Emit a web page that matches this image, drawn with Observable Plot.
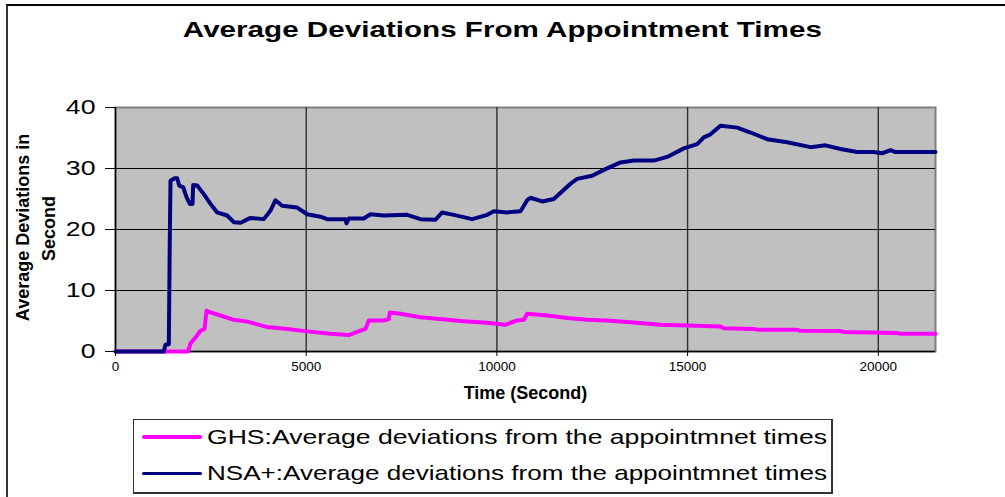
<!DOCTYPE html>
<html><head><meta charset="utf-8">
<script src="https://cdn.jsdelivr.net/npm/d3@7"></script>
<script src="https://cdn.jsdelivr.net/npm/@observablehq/plot@0.6"></script>
<style>
body{margin:0;background:#fff;}
#wrap{position:relative;width:1005px;height:497px;overflow:hidden;font-family:"Liberation Sans",Arial,sans-serif;color:#000;}
#frame{position:absolute;left:6px;top:4px;width:1100px;height:600px;border-left:2px solid #333;border-top:2px solid #000;}
#chart{position:absolute;left:0;top:0;}
#title{position:absolute;top:15px;left:0;width:1005px;text-align:center;font-weight:bold;font-size:22px;line-height:30px;white-space:nowrap;}
.stretch{display:inline-block;white-space:nowrap;}
#legend{position:absolute;left:133px;top:419px;width:697px;height:72px;border:1px solid #333;border-right-width:2px;border-bottom-width:2px;background:#fff;}
.row{position:absolute;left:0;width:697px;height:26px;}
.sw{position:absolute;left:8px;width:60px;border-radius:2px;}
.lt{position:absolute;left:73px;top:0;font-size:21px;line-height:26px;transform-origin:left center;}
</style></head>
<body>
<div id="wrap">
  <div id="frame"></div>
  <div id="chart"></div>
  <div id="title"><span class="stretch" id="titleText">Average Deviations From Appointment Times</span></div>
  <div id="legend"></div>
</div>
<script>
// ---- data ----
const xTicks = [0, 5000, 10000, 15000, 20000];
const yTicks = [0, 10, 20, 30, 40];
const seriesNames = [
  "GHS:Average deviations from the appointmnet times",
  "NSA+:Average deviations from the appointmnet times"
];
const seriesColors = ["#FF00FF", "#000080"];

const ghsTime = [0,1897,1966,2098,2229,2334,2386,2491,2753,3102,3452,3977,4502,5025,5637,6117,6336,6555,6642,7035,7166,7192,7472,7997,8434,9133,9745,10226,10532,10707,10794,11318,11843,12367,12892,13503,14290,14989,15862,15950,16736,16867,17873,17960,19009,19096,20494,20582,21500];
const ghsValue = [0,0,1.3,2.3,3.4,3.7,6.7,6.4,5.9,5.2,4.9,4.0,3.7,3.3,2.9,2.7,3.2,3.7,5.1,5.1,5.3,6.4,6.2,5.6,5.35,4.97,4.7,4.4,5.1,5.2,6.2,5.9,5.5,5.2,5.1,4.8,4.4,4.25,4.1,3.8,3.7,3.55,3.55,3.4,3.35,3.2,3.05,2.9,2.9];

const nsaTime = [0,1267,1311,1398,1424,1442,1547,1617,1670,1775,1862,1949,2019,2037,2142,2316,2491,2666,2928,3102,3277,3540,3889,4064,4195,4370,4763,5025,5375,5550,6030,6056,6117,6510,6686,7035,7648,7997,8390,8565,8870,9352,9745,9920,10270,10619,10794,10881,11187,11492,11930,12105,12498,12847,13241,13590,14114,14465,14901,15251,15425,15600,15862,16300,16649,17087,17611,18222,18615,19009,19446,19883,20101,20319,20451,21500];
const nsaValue = [0,0,1.1,1.2,18.7,28.0,28.4,28.4,27.2,26.9,25.3,24.2,24.2,27.3,27.2,25.8,24.2,22.8,22.3,21.2,21.1,21.9,21.7,23.1,24.8,23.9,23.6,22.5,22.1,21.7,21.7,21.0,21.8,21.8,22.5,22.3,22.4,21.7,21.6,22.8,22.4,21.7,22.4,23.0,22.8,23.0,24.8,25.2,24.6,25.0,27.5,28.3,28.8,29.9,31.0,31.3,31.3,31.9,33.3,34.0,35.1,35.6,37.0,36.7,35.9,34.8,34.3,33.5,33.8,33.2,32.7,32.7,32.5,33.0,32.7,32.7];

const ghs = ghsTime.map((t, i) => ({t, v: ghsValue[i]}));
const nsa = nsaTime.map((t, i) => ({t, v: nsaValue[i]}));

const plot = Plot.plot({
  width: 1005,
  height: 497,
  marginLeft: 115,
  marginRight: 70,
  marginTop: 107,
  marginBottom: 146,
  style: {background: "transparent", fontFamily: "'Liberation Sans', Arial, sans-serif", color: "#000", overflow: "visible"},
  x: {domain: [0, 21500], label: null},
  y: {domain: [0, 40], label: null},
  marks: [
    Plot.frame({fill: "#C0C0C0", stroke: "#808080", strokeWidth: 2}),
    Plot.gridY([10, 20, 30], {stroke: "#000", strokeOpacity: 1, strokeWidth: 1}),
    Plot.gridX([5000, 10000, 15000, 20000], {stroke: "#303030", strokeOpacity: 1, strokeWidth: 1.4}),
    Plot.ruleX([0], {stroke: "#000", strokeWidth: 1.5}),
    Plot.ruleY([0], {stroke: "#000", strokeWidth: 1.5}),
    Plot.line(ghs, {x: "t", y: "v", stroke: seriesColors[0], strokeWidth: 4, strokeLinejoin: "round", strokeLinecap: "round"}),
    Plot.line(nsa, {x: "t", y: "v", stroke: seriesColors[1], strokeWidth: 4, strokeLinejoin: "round", strokeLinecap: "round"}),
    Plot.axisY(yTicks, {tickSize: 10, tickPadding: 10, fontSize: 21, stroke: "#000", fill: "#000"}),
    Plot.axisX(xTicks, {tickSize: 5, tickPadding: 5, fontSize: 13.5, stroke: "#000", fill: "#000", tickFormat: d => String(d)}),
    Plot.text(["Average Deviations in"], {frameAnchor: "left", dx: -92, dy: -2, rotate: -90, textAnchor: "middle", lineAnchor: "middle", fontSize: 18, fontWeight: "bold", fill: "#000"}),
    Plot.text(["Second"], {frameAnchor: "left", dx: -66, dy: -1, rotate: -90, textAnchor: "middle", lineAnchor: "middle", fontSize: 18, fontWeight: "bold", fill: "#000"}),
    Plot.text(["Time (Second)"], {frameAnchor: "bottom", dy: 42, lineAnchor: "middle", fontSize: 18, fontWeight: "bold", fill: "#000", ariaLabel: "xlabel"})
  ]
});
document.getElementById("chart").appendChild(plot);

// the reference's text is horizontally stretched; stretch glyphs to match
function stretchSvg(sel, k) {
  plot.querySelectorAll(sel).forEach(t => {
    const w = t.getComputedTextLength();
    t.setAttribute("textLength", (w * k).toFixed(1));
    t.setAttribute("lengthAdjust", "spacingAndGlyphs");
  });
}
stretchSvg('g[aria-label="y-axis tick label"] text', 1.27);
stretchSvg('g[aria-label="xlabel"] text', 1.15);

function stretchHtml(el, target, origin) {
  const w = el.getBoundingClientRect().width;
  el.style.transformOrigin = origin;
  el.style.transform = `scaleX(${target / w})`;
}
stretchHtml(document.getElementById("titleText"), 639, "center center");

// legend
const legend = document.getElementById("legend");
const rowTops = [4, 40];
const swWidths = [4, 3];
seriesNames.forEach((name, i) => {
  const row = document.createElement("div");
  row.className = "row";
  row.style.top = rowTops[i] + "px";
  const sw = document.createElement("div");
  sw.className = "sw";
  sw.style.background = seriesColors[i];
  sw.style.height = swWidths[i] + "px";
  sw.style.top = (13 - swWidths[i] / 2) + "px";
  const tx = document.createElement("span");
  tx.className = "lt stretch";
  tx.textContent = name;
  row.appendChild(sw);
  row.appendChild(tx);
  legend.appendChild(row);
  stretchHtml(tx, 620, "left center");
});
</script>
</body></html>
